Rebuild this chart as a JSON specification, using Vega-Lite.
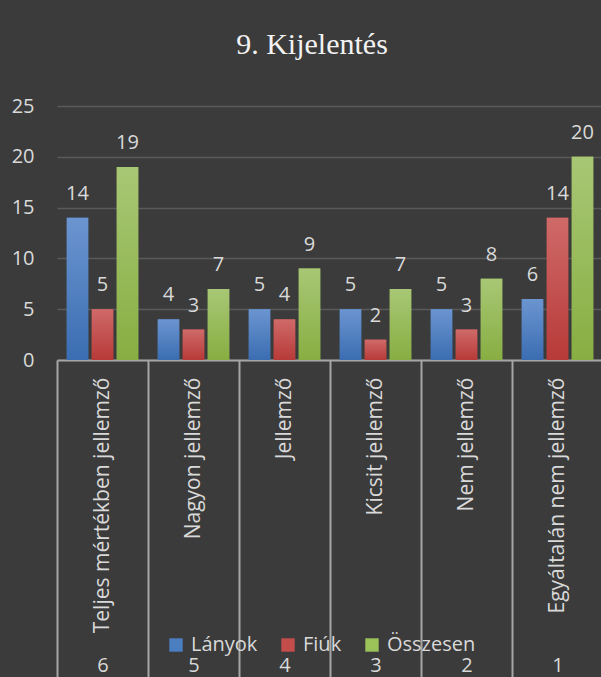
{
  "$schema": "https://vega.github.io/schema/vega-lite/v6.json",
  "width": 546,
  "height": 254,
  "autosize": {"type": "none"},
  "padding": {"left": 57, "top": 106, "right": 0, "bottom": 317},
  "background": "#3b3b3b",
  "title": {
    "text": "9. Kijelentés",
    "font": "Liberation Serif",
    "fontSize": 30,
    "fontWeight": "normal",
    "color": "#f2f2f2",
    "anchor": "middle",
    "baseline": "alphabetic",
    "offset": 12,
    "dx": -18
  },
  "data": {
    "values": [
      {"category": "Teljes mértékben jellemző", "num": 6, "series": "Lányok", "value": 14},
      {"category": "Teljes mértékben jellemző", "num": 6, "series": "Fiúk", "value": 5},
      {"category": "Teljes mértékben jellemző", "num": 6, "series": "Összesen", "value": 19},
      {"category": "Nagyon jellemző", "num": 5, "series": "Lányok", "value": 4},
      {"category": "Nagyon jellemző", "num": 5, "series": "Fiúk", "value": 3},
      {"category": "Nagyon jellemző", "num": 5, "series": "Összesen", "value": 7},
      {"category": "Jellemző", "num": 4, "series": "Lányok", "value": 5},
      {"category": "Jellemző", "num": 4, "series": "Fiúk", "value": 4},
      {"category": "Jellemző", "num": 4, "series": "Összesen", "value": 9},
      {"category": "Kicsit jellemző", "num": 3, "series": "Lányok", "value": 5},
      {"category": "Kicsit jellemző", "num": 3, "series": "Fiúk", "value": 2},
      {"category": "Kicsit jellemző", "num": 3, "series": "Összesen", "value": 7},
      {"category": "Nem jellemző", "num": 2, "series": "Lányok", "value": 5},
      {"category": "Nem jellemző", "num": 2, "series": "Fiúk", "value": 3},
      {"category": "Nem jellemző", "num": 2, "series": "Összesen", "value": 8},
      {"category": "Egyáltalán nem jellemző", "num": 1, "series": "Lányok", "value": 6},
      {"category": "Egyáltalán nem jellemző", "num": 1, "series": "Fiúk", "value": 14},
      {"category": "Egyáltalán nem jellemző", "num": 1, "series": "Összesen", "value": 20}
    ]
  },
  "layer": [
    {
      "encoding": {
        "x": {
          "field": "category",
          "type": "nominal",
          "sort": ["Teljes mértékben jellemző", "Nagyon jellemző", "Jellemző", "Kicsit jellemző", "Nem jellemző", "Egyáltalán nem jellemző"],
          "scale": {"paddingInner": 0, "paddingOuter": 0},
          "axis": {
            "title": null,
            "labelAngle": -90,
            "labelFont": "Open Sans",
            "labelFontSize": 21,
            "labelColor": "#d9d9d9",
            "labelPadding": 17,
            "labelLimit": 400,
            "ticks": false,
            "domain": true,
            "domainColor": "#a6a6a6",
            "domainWidth": 2,
            "grid": false
          }
        },
        "xOffset": {
          "field": "series",
          "type": "nominal",
          "sort": ["Lányok", "Fiúk", "Összesen"],
          "scale": {"paddingInner": 0.14, "paddingOuter": 0.39}
        },
        "y": {
          "field": "value",
          "type": "quantitative",
          "scale": {"domain": [0, 25], "nice": false},
          "axis": {
            "title": null,
            "values": [0, 5, 10, 15, 20, 25],
            "labelFont": "Open Sans",
            "labelFontSize": 20,
            "labelColor": "#d9d9d9",
            "labelPadding": 23,
            "ticks": false,
            "domain": false,
            "gridColor": "#5a5a5a",
            "gridWidth": 1.5
          }
        }
      },
      "layer": [
        {
          "mark": {"type": "bar"},
          "encoding": {
            "color": {
              "field": "series",
              "type": "nominal",
              "scale": {"domain": ["Lányok", "Fiúk", "Összesen"], "range": ["#4a7ec0", "#c44d4b", "#9cc25a"]},
              "legend": {
                "orient": "none",
                "legendX": 109,
                "legendY": 529,
                "direction": "horizontal",
                "title": null,
                "symbolType": "square",
                "symbolSize": 180,
                "symbolStrokeWidth": 0,
                "labelFont": "Open Sans",
                "labelFontSize": 20,
                "labelColor": "#d9d9d9",
                "labelOffset": 5,
                "columnPadding": 20
              }
            }
          }
        },
        {
          "mark": {"type": "bar"},
          "encoding": {
            "fill": {
              "condition": [
                {"test": "datum.series === 'Lányok'", "value": {"gradient": "linear", "x1": 0, "y1": 0, "x2": 0, "y2": 1, "stops": [{"offset": 0, "color": "#6b95d0"}, {"offset": 1, "color": "#3b6db2"}]}},
                {"test": "datum.series === 'Fiúk'", "value": {"gradient": "linear", "x1": 0, "y1": 0, "x2": 0, "y2": 1, "stops": [{"offset": 0, "color": "#cf6a69"}, {"offset": 1, "color": "#b73a38"}]}}
              ],
              "value": {"gradient": "linear", "x1": 0, "y1": 0, "x2": 0, "y2": 1, "stops": [{"offset": 0, "color": "#a8c775"}, {"offset": 1, "color": "#88ae42"}]}
            }
          }
        }
      ]
    },
    {
      "mark": {"type": "text", "baseline": "alphabetic", "dy": -18, "font": "Open Sans", "fontSize": 20, "fill": "#d9d9d9"},
      "encoding": {
        "x": {
          "field": "num",
          "type": "nominal",
          "sort": "descending",
          "scale": {"paddingInner": 0, "paddingOuter": 0},
          "axis": {
            "orient": "bottom",
            "title": null,
            "labelAngle": 0,
            "labelFont": "Open Sans",
            "labelFontSize": 20,
            "labelColor": "#d9d9d9",
            "ticks": true,
            "tickBand": "extent",
            "tickSize": 320,
            "tickColor": "#a6a6a6",
            "tickWidth": 2,
            "labelPadding": -25,
            "domain": false,
            "grid": false
          }
        },
        "xOffset": {
          "field": "series",
          "type": "nominal",
          "sort": ["Lányok", "Fiúk", "Összesen"],
          "scale": {"paddingInner": 0.14, "paddingOuter": 0.39}
        },
        "y": {"field": "value", "type": "quantitative"},
        "text": {"field": "value", "type": "quantitative"}
      }
    }
  ],
  "resolve": {"scale": {"x": "independent"}, "axis": {"x": "independent"}},
  "config": {"view": {"stroke": null}, "font": "Open Sans"}
}
